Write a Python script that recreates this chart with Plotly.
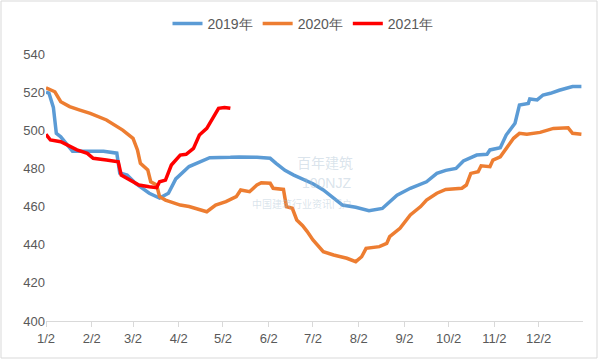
import plotly.graph_objects as go

# ---- data (month-day, values) ----
dates_2019 = ["01-02","01-04","01-07","01-09","01-12","01-16","01-18","01-20","01-27","02-03","02-10","02-19","02-21","02-26",
              "03-04","03-13","03-18","03-20","03-26","03-31","04-09","04-16","04-23","05-07","05-13","05-25","06-03","06-07",
              "06-13","06-19","06-27","07-02","07-09","07-16","07-22","07-31","08-09","08-18","08-28","09-06","09-17","09-24",
              "09-30","10-07","10-12","10-21","10-28","10-30","11-06","11-10","11-16","11-19","11-25","11-26","12-01","12-05",
              "12-10","12-16","12-21","12-25","12-31"]
values_2019 = [520,519.5,512,498.4,496.6,493,490.5,489,489,489,489,488,477.6,476.5,
               472,467,465.2,464.5,467,474.5,481,483.5,485.6,485.8,486,485.8,485.3,482.7,
               479,476.5,474,472,468.7,464.3,460.8,459.6,457.8,459,466,469.6,473,477.4,
               479,480,483.9,487,487.4,489.7,490.9,497.5,503.7,513.3,514.1,516.4,515.9,518.5,
               519.4,521,522,522.9,522.9]

dates_2020 = ["01-02","01-08","01-12","01-18","01-25","02-01","02-12","02-17","02-23","03-02","03-05","03-07","03-12","03-14",
              "03-18","03-20","03-24","03-27","04-03","04-09","04-16","04-21","04-27","05-04","05-11","05-14","05-20","05-25",
              "05-28","06-03","06-05","06-12","06-14","06-18","06-21","06-25","06-28","07-02","07-09","07-16","07-25","07-31",
              "08-04","08-07","08-16","08-21","08-23","08-30","09-06","09-13","09-17","09-24","09-30","10-11","10-14","10-17",
              "10-22","10-24","10-30","11-01","11-06","11-10","11-15","11-19","11-24","12-03","12-12","12-22","12-25","12-31"]
values_2020 = [522.3,520.2,515,512.4,510.6,508.9,505.4,502.8,500.1,495.8,489.7,482.7,479.2,473,
               471.3,465.2,463.4,462.6,460.8,460,458.2,457.3,460.8,462.6,465.2,468.7,467.8,471.3,
               472.5,472.2,469.6,469,460,459.1,453,450,447,442.5,436.3,434.6,432.9,431.1,
               433.7,438.1,439,440.7,444.2,448.6,455.6,460,463.4,467,469,469.6,471.3,477.4,
               478.3,481.4,480.9,484.4,486.1,490.5,495.8,498.4,497.9,498.9,501,501.3,498.4,497.9]

dates_2021 = ["01-02","01-05","01-12","01-16","01-23","01-30","02-03","02-12","02-20","02-22","02-28","03-06","03-13","03-18",
              "03-20","03-24","03-28","04-01","04-03","04-07","04-12","04-16","04-21","04-25","04-29","05-03","05-07"]
values_2021 = [497.9,494.9,494,492.3,489.7,487.9,485.3,484.4,483.5,476.5,473.9,471.3,470.4,469.9,
               473,473.9,481.8,485.3,487,487.4,490.5,497.5,501,506.3,511.5,512,511.5]

series_names = ["2019年", "2020年", "2021年"]
series_colors = ["#5B9BD5", "#ED7D31", "#FF0000"]

tick_dates = ["01-02","02-02","03-02","04-02","05-02","06-02","07-02","08-02","09-02","10-02","11-02","12-02"]
tick_labels = ["1/2","2/2","3/2","4/2","5/2","6/2","7/2","8/2","9/2","10/2","11/2","12/2"]

assert len(dates_2019) == len(values_2019)
assert len(dates_2020) == len(values_2020)
assert len(dates_2021) == len(values_2021)

BASE = "2019-"  # common (non-leap) year used to lay the month-day axis
FONT = "Liberation Sans, Arial, sans-serif"
TXT = "#595959"

fig = go.Figure()
for name, d, v, c in zip(series_names, [dates_2019, dates_2020, dates_2021],
                         [values_2019, values_2020, values_2021], series_colors):
    fig.add_trace(go.Scatter(x=[BASE + s for s in d], y=v, mode="lines", name=name,
                             line=dict(color=c, width=3.5)))

W, H = 602, 362
L, R, T, B = 46, 19, 54, 41
pw, ph = W - L - R, H - T - B

def px(x):
    return (x - L) / pw

def py(y):
    return (H - B - y) / ph

fig.update_layout(
    width=W, height=H, autosize=False,
    margin=dict(l=L, r=R, t=T, b=B, pad=0, autoexpand=False),
    paper_bgcolor="white", plot_bgcolor="white",
    font=dict(family=FONT, size=13, color=TXT),
    showlegend=True,
    legend=dict(orientation="h", xref="container", yref="container",
                x=303 / W, xanchor="center", y=1 - 24 / H, yanchor="middle",
                font=dict(size=14, color=TXT), bgcolor="rgba(0,0,0,0)",
                itemwidth=30, tracegroupgap=0),
    xaxis=dict(type="date", range=["2019-01-02", "2020-01-01 02:00"],
               tickvals=[BASE + s for s in tick_dates], ticktext=tick_labels,
               showline=True, linecolor="#d9d9d9", linewidth=1,
               ticks="outside", ticklen=5, tickcolor="#d9d9d9",
               showgrid=False, zeroline=False, tickfont=dict(size=13, color=TXT)),
    yaxis=dict(range=[400, 540], dtick=20, tick0=400, showgrid=False, zeroline=False,
               showline=False, ticks="", tickfont=dict(size=13, color=TXT)),
    shapes=[dict(type="rect", xref="paper", yref="paper",
                 x0=px(1), x1=px(597), y0=py(358), y1=py(1),
                 line=dict(color="#d9d9d9", width=1), fillcolor="rgba(0,0,0,0)", layer="below")],
)

# faint source watermark
wm = "rgba(160,185,205,0.4)"
fig.add_annotation(xref="paper", yref="paper", x=px(325), y=py(162), text="百年建筑", showarrow=False,
                   font=dict(family="Noto Sans CJK SC", size=14, color=wm))
fig.add_annotation(xref="paper", yref="paper", x=px(326), y=py(183), text="100NJZ", showarrow=False,
                   font=dict(family=FONT, size=14, color=wm))
fig.add_annotation(xref="paper", yref="paper", x=px(302), y=py(203), text="中国建筑行业资讯门户", showarrow=False,
                   font=dict(family="Noto Sans CJK SC", size=10, color=wm))

fig.write_html("out.html", config={"displayModeBar": False},
               post_script="document.body.style.margin='0';document.body.style.padding='0';")
